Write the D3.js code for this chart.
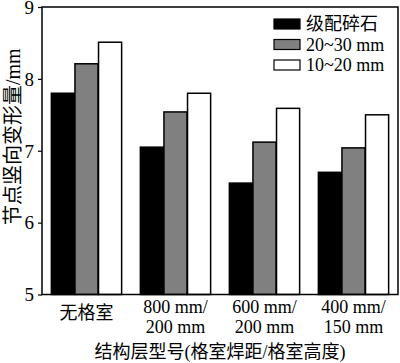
<!DOCTYPE html>
<html>
<head>
<meta charset="utf-8">
<script src="https://cdn.jsdelivr.net/npm/d3@7"></script>
<style>
  body { margin: 0; background: #fff; }
  text { font-family: "Liberation Serif", "Times New Roman", "Noto Sans CJK SC", serif; fill: #000; }
</style>
</head>
<body>
<div id="chart"></div>
<script>
// data
const categories = [["无格室"], ["800 mm/", "200 mm"], ["600 mm/", "200 mm"], ["400 mm/", "150 mm"]];
const seriesNames = ["级配碎石", "20~30 mm", "10~20 mm"];
const seriesColors = ["#000000", "#808080", "#ffffff"];
const gravel = [7.8, 7.05, 6.55, 6.7];
const cell2030 = [8.21, 7.54, 7.12, 7.04];
const cell1020 = [8.51, 7.8, 7.59, 7.5];
const yTicks = [5, 6, 7, 8, 9];

const values = [gravel, cell2030, cell1020];

const width = 400, height = 363;
const margin = { top: 7, right: 2, bottom: 68.5, left: 42 };
const w = width - margin.left - margin.right;
const h = height - margin.top - margin.bottom;

const svg = d3.select("#chart").append("svg")
    .attr("width", width)
    .attr("height", height);
const g = svg.append("g")
    .attr("transform", `translate(${margin.left},${margin.top})`);

const x0 = d3.scaleBand()
    .domain(d3.range(categories.length))
    .range([0, w])
    .paddingInner(0.2)
    .paddingOuter(0.1);
const x1 = d3.scaleBand()
    .domain(d3.range(seriesNames.length))
    .range([0, x0.bandwidth()])
    .padding(0.02);
const y = d3.scaleLinear().domain([5, 9]).range([h, 0]);

// bars
seriesNames.forEach((s, si) => {
  g.selectAll(".bar" + si)
    .data(values[si])
    .enter().append("rect")
    .attr("x", (d, i) => x0(i) + x1(si))
    .attr("y", d => y(d))
    .attr("width", x1.bandwidth())
    .attr("height", d => h - y(d))
    .attr("fill", seriesColors[si])
    .attr("stroke", "#000")
    .attr("stroke-width", 1.5);
});

// frame
g.append("rect")
    .attr("width", w).attr("height", h)
    .attr("fill", "none").attr("stroke", "#000").attr("stroke-width", 1.5);

// y axis
const yAxis = g.append("g")
    .call(d3.axisLeft(y).tickValues(yTicks).tickSize(4).tickPadding(4).tickFormat(d3.format("d")));
yAxis.select(".domain").remove();
yAxis.selectAll("line").attr("stroke-width", 1.2);
yAxis.selectAll("text").style("font-size", "19px").attr("dy", "0.33em");

// x labels
categories.forEach((lines, i) => {
  const cx = x0(i) + x0.bandwidth() / 2;
  const t = g.append("text")
      .attr("text-anchor", "middle")
      .style("font-size", "18px");
  if (lines.length === 1) {
    t.append("tspan").attr("x", cx).attr("y", h + 24.5).text(lines[0]);
  } else {
    lines.forEach((ln, k) => {
      t.append("tspan").attr("x", cx).attr("y", h + 18.5 + k * 20).text(ln);
    });
  }
});

// axis titles
g.append("text")
    .attr("x", w / 2).attr("y", h + 63)
    .attr("text-anchor", "middle")
    .style("font-size", "18px")
    .text("结构层型号(格室焊距/格室高度)");

svg.append("text")
    .attr("transform", `translate(20,${margin.top + h / 2 - 14}) rotate(-90)`)
    .attr("text-anchor", "middle")
    .style("font-size", "20px")
    .text("节点竖向变形量/mm");

// legend
const legend = svg.append("g").attr("transform", "translate(274,19)");
seriesNames.forEach((s, i) => {
  const row = legend.append("g").attr("transform", `translate(0,${i * 20.5})`);
  row.append("rect")
      .attr("width", 26).attr("height", 10)
      .attr("fill", seriesColors[i])
      .attr("stroke", "#000").attr("stroke-width", 1.2);
  row.append("text")
      .attr("x", 32).attr("y", 5).attr("dy", "0.35em")
      .style("font-size", "18px")
      .text(s);
});
</script>
</body>
</html>
